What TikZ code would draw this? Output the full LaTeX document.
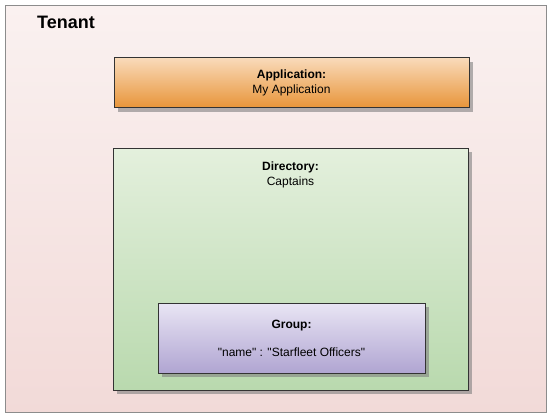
\documentclass[tikz,border=0pt]{standalone}
\usepackage{fontspec}
\setmainfont{Liberation Sans}
\usepackage{xcolor}
\usetikzlibrary{positioning,shadows}

\definecolor{tenanttop}{HTML}{FAF1F0}
\definecolor{tenantbot}{HTML}{F2DAD8}
\definecolor{apptop}{HTML}{F9DBBB}
\definecolor{appbot}{HTML}{E8953A}
\definecolor{dirtop}{HTML}{E4F0DD}
\definecolor{dirbot}{HTML}{B9D9AE}
\definecolor{grptop}{HTML}{E9E5F4}
\definecolor{grpbot}{HTML}{B0A5D2}

\begin{document}
\begin{tikzpicture}[x=1pt,y=-1pt,
  every node/.style={font=\fontsize{12}{15}\selectfont},
  box/.style={draw=black!80, line width=0.8pt, inner sep=0pt,
    drop shadow={shadow xshift=4pt,shadow yshift=-4pt,fill=black!50,opacity=0.6}}]
  \useasboundingbox (0,0) rectangle (553,418);
  % outer tenant area
  \node[draw=black!45, line width=0.8pt, inner sep=0pt, top color=tenanttop,
    bottom color=tenantbot, minimum width=541pt, minimum height=407pt]
    (tenant) at (275.5,209) {};
  \node[anchor=west, inner sep=0pt, font=\bfseries\fontsize{18}{21}\selectfont]
    (tenantlbl) at (37,22) {Tenant};
  % application
  \node[box, top color=apptop, bottom color=appbot, minimum width=355pt,
    minimum height=50pt, align=center] (app) at (291.5,82.5)
    {\textbf{Application:}\\My Application};
  % directory with its group
  \node[box, top color=dirtop, bottom color=dirbot, minimum width=355pt,
    minimum height=242pt] (dir) at (290.5,269) {};
  \node[below=14pt of dir.north, inner sep=0pt, align=center] (dirlbl)
    {\textbf{Directory:}\\Captains};
  \node[box, top color=grptop, bottom color=grpbot, minimum width=267pt,
    minimum height=70pt, align=center] (grp) at (291.5,338)
    {\textbf{Group:}\\[13pt]\textquotedbl name\textquotedbl\ : \textquotedbl Starfleet Officers\textquotedbl};
\end{tikzpicture}
\end{document}
